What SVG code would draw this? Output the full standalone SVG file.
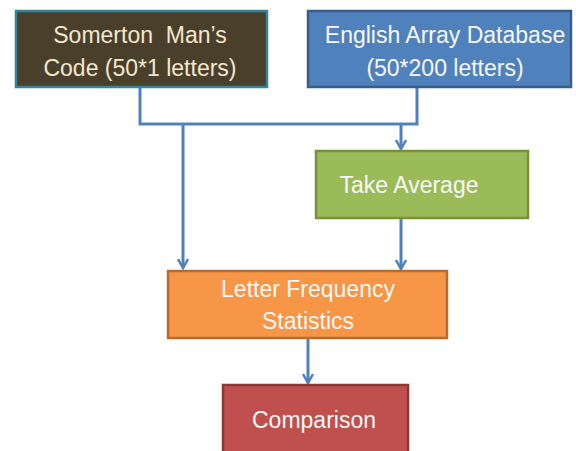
<svg xmlns="http://www.w3.org/2000/svg" width="576" height="451" viewBox="0 0 576 451">
<defs>
<style>
.t{font-family:"Liberation Sans",Arial,sans-serif;font-size:23px;text-anchor:middle;fill:#F8F8F8}
.c{fill:none;stroke:#4F81BD;stroke-width:3}
</style>
<marker id="ah" viewBox="0 0 12 12" refX="10" refY="6" markerWidth="12" markerHeight="12" markerUnits="userSpaceOnUse" orient="auto">
<path d="M1,1 L10,6 L1,11" fill="none" stroke="#4F81BD" stroke-width="2.5"/>
</marker>
</defs>
<rect width="576" height="451" fill="#FFFFFF"/>
<g id="connectors">
<path class="c" d="M140,87 V124 H417 V87"/>
<path class="c" d="M183,124 V268" marker-end="url(#ah)"/>
<path class="c" d="M401,124 V149" marker-end="url(#ah)"/>
<path class="c" d="M401,219 V269" marker-end="url(#ah)"/>
<path class="c" d="M308,338 V383" marker-end="url(#ah)"/>
</g>
<g id="somerton">
<rect x="16" y="11" width="251" height="76" fill="#4A3F2B" stroke="#31859C" stroke-width="2.5"/>
<text class="t" x="140" y="43" style="fill:#F2E8CF" xml:space="preserve">Somerton  Man’s</text>
<text class="t" x="140" y="76" style="fill:#F2E8CF">Code (50*1 letters)</text>
</g>
<g id="english">
<rect x="308" y="11" width="263" height="76" fill="#4F81BD" stroke="#385D8A" stroke-width="2.5"/>
<text class="t" x="445" y="43">English Array Database</text>
<text class="t" x="445" y="76">(50*200 letters)</text>
</g>
<g id="average">
<rect x="316" y="151" width="212" height="67" fill="#9BBB59" stroke="#76923C" stroke-width="2.5"/>
<text class="t" x="409" y="193">Take Average</text>
</g>
<g id="frequency">
<rect x="168" y="271" width="279" height="67" fill="#F79646" stroke="#B66D31" stroke-width="2.5"/>
<text class="t" x="308" y="297">Letter Frequency</text>
<text class="t" x="308" y="329">Statistics</text>
</g>
<g id="comparison">
<rect x="223" y="385" width="185" height="70" fill="#C0504D" stroke="#8C3836" stroke-width="2.5"/>
<text class="t" x="314" y="428">Comparison</text>
</g>
</svg>
